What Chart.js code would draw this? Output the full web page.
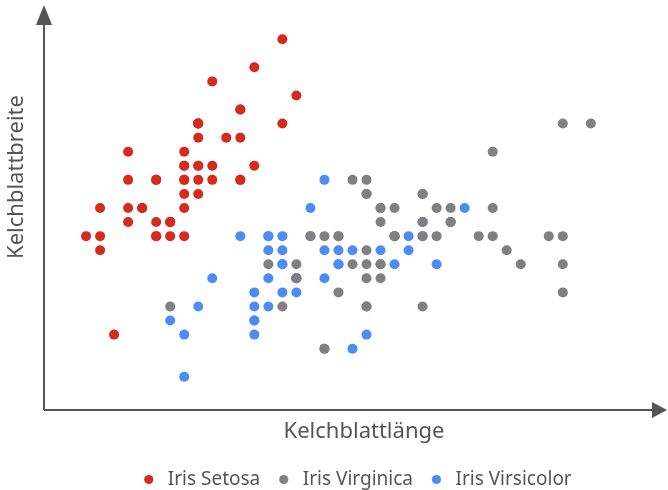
<!DOCTYPE html>
<html>
<head>
<meta charset="utf-8">
<script src="https://cdn.jsdelivr.net/npm/chart.js@4"></script>
<style>
  html, body { margin: 0; padding: 0; background: #fff; }
  #wrap { width: 668px; height: 490px; }
</style>
</head>
<body>
<div id="wrap"><canvas id="irisChart"></canvas></div>
<script>
// Iris: sepal length (Kelchblattlänge) vs. sepal width (Kelchblattbreite)
const setosaLength = [5.1, 4.9, 4.7, 4.6, 5.0, 5.4, 4.6, 5.0, 4.4, 4.9, 5.4, 4.8, 4.8, 4.3, 5.8, 5.7, 5.4, 5.1, 5.7, 5.1, 5.4, 5.1, 4.6, 5.1, 4.8, 5.0, 5.0, 5.2, 5.2, 4.7, 4.8, 5.4, 5.2, 5.5, 4.9, 5.0, 5.5, 4.9, 4.4, 5.1, 5.0, 4.5, 4.4, 5.0, 5.1, 4.8, 5.1, 4.6, 5.3, 5.0];
const setosaWidth = [3.5, 3.0, 3.2, 3.1, 3.6, 3.9, 3.4, 3.4, 2.9, 3.1, 3.7, 3.4, 3.0, 3.0, 4.0, 4.4, 3.9, 3.5, 3.8, 3.8, 3.4, 3.7, 3.6, 3.3, 3.4, 3.0, 3.4, 3.5, 3.4, 3.2, 3.1, 3.4, 4.1, 4.2, 3.1, 3.2, 3.5, 3.1, 3.0, 3.4, 3.5, 2.3, 3.2, 3.5, 3.8, 3.0, 3.8, 3.2, 3.7, 3.3];

const versicolorLength = [7.0, 6.4, 6.9, 5.5, 6.5, 5.7, 6.3, 4.9, 6.6, 5.2, 5.0, 5.9, 6.0, 6.1, 5.6, 6.7, 5.6, 5.8, 6.2, 5.6, 5.9, 6.1, 6.3, 6.1, 6.4, 6.6, 6.8, 6.7, 6.0, 5.7, 5.5, 5.5, 5.8, 6.0, 5.4, 6.0, 6.7, 6.3, 5.6, 5.5, 5.5, 6.1, 5.8, 5.0, 5.6, 5.7, 5.7, 6.2, 5.1, 5.7];
const versicolorWidth = [3.2, 3.2, 3.1, 2.3, 2.8, 2.8, 3.3, 2.4, 2.9, 2.7, 2.0, 3.0, 2.2, 2.9, 2.9, 3.1, 3.0, 2.7, 2.2, 2.5, 3.2, 2.8, 2.5, 2.8, 2.9, 3.0, 2.8, 3.0, 2.9, 2.6, 2.4, 2.4, 2.7, 2.7, 3.0, 3.4, 3.1, 2.3, 3.0, 2.5, 2.6, 3.0, 2.6, 2.3, 2.7, 3.0, 2.9, 2.9, 2.5, 2.8];

const virginicaLength = [6.3, 5.8, 7.1, 6.3, 6.5, 7.6, 4.9, 7.3, 6.7, 7.2, 6.5, 6.4, 6.8, 5.7, 5.8, 6.4, 6.5, 7.7, 7.7, 6.0, 6.9, 5.6, 7.7, 6.3, 6.7, 7.2, 6.2, 6.1, 6.4, 7.2, 7.4, 7.9, 6.4, 6.3, 6.1, 7.7, 6.3, 6.4, 6.0, 6.9, 6.7, 6.9, 5.8, 6.8, 6.7, 6.7, 6.3, 6.5, 6.2, 5.9];
const virginicaWidth = [3.3, 2.7, 3.0, 2.9, 3.0, 3.0, 2.5, 2.9, 2.5, 3.6, 3.2, 2.7, 3.0, 2.5, 2.8, 3.2, 3.0, 3.8, 2.6, 2.2, 3.2, 2.8, 2.8, 2.7, 3.3, 3.2, 2.8, 3.0, 2.8, 3.0, 2.8, 3.8, 2.8, 2.8, 2.6, 3.0, 3.4, 3.1, 3.0, 3.1, 3.1, 3.1, 2.7, 3.2, 3.3, 3.0, 2.5, 3.0, 3.4, 3.0];

const xTitle = "Kelchblattlänge";
const yTitle = "Kelchblattbreite";

const toPoints = (xs, ys) => xs.map((x, i) => ({ x: x, y: ys[i] }));

const axisColor = "#555555";
const fontFamily = "'Noto Sans', 'Open Sans', sans-serif";

// draws the two axis lines with arrow heads, plus both axis titles
const arrowAxes = {
  id: "arrowAxes",
  afterDraw(chart) {
    const { ctx, chartArea } = chart;
    const l = chartArea.left, b = chartArea.bottom;
    ctx.save();
    ctx.strokeStyle = axisColor;
    ctx.fillStyle = axisColor;
    ctx.lineWidth = 2;
    ctx.beginPath();
    ctx.moveTo(l, b);
    ctx.lineTo(l, chartArea.top + 14);
    ctx.moveTo(l, b);
    ctx.lineTo(chartArea.right - 14, b);
    ctx.stroke();
    ctx.beginPath();
    ctx.moveTo(l, chartArea.top);
    ctx.lineTo(l - 8, chartArea.top + 20);
    ctx.lineTo(l + 8, chartArea.top + 20);
    ctx.closePath();
    ctx.fill();
    ctx.beginPath();
    ctx.moveTo(chartArea.right, b);
    ctx.lineTo(chartArea.right - 15, b - 8);
    ctx.lineTo(chartArea.right - 15, b + 8);
    ctx.closePath();
    ctx.fill();

    ctx.font = "22px " + fontFamily;
    ctx.textAlign = "center";
    ctx.textBaseline = "middle";
    ctx.fillText(xTitle, 364, b + 22);

    ctx.translate(17, 177);
    ctx.rotate(-Math.PI / 2);
    ctx.fillText(yTitle, 0, 0);
    ctx.restore();
  },
};

new Chart(document.getElementById("irisChart"), {
  type: "scatter",
  data: {
    datasets: [
      {
        label: "Iris Setosa",
        data: toPoints(setosaLength, setosaWidth),
        backgroundColor: "#d42a1f",
        borderWidth: 0,
      },
      {
        label: "Iris Virginica",
        data: toPoints(virginicaLength, virginicaWidth),
        backgroundColor: "#808080",
        borderWidth: 0,
      },
      {
        label: "Iris Virsicolor",
        data: toPoints(versicolorLength, versicolorWidth),
        backgroundColor: "#4d8cf5",
        borderWidth: 0,
      },
    ],
  },
  options: {
    responsive: true,
    maintainAspectRatio: false,
    animation: false,
    elements: { point: { radius: 5, hoverRadius: 5 } },
    layout: { autoPadding: false, padding: { top: 5, right: 1, left: 44, bottom: -9 } },
    scales: {
      x: {
        type: "linear",
        min: 4.0,
        max: 8.443,
        grid: { display: false, drawTicks: false },
        border: { display: false },
        ticks: { display: false },
        title: { display: false },
        afterFit(scale) {
          scale.height = 46;
        },
      },
      y: {
        type: "linear",
        min: 1.764,
        max: 4.643,
        grid: { display: false, drawTicks: false },
        border: { display: false },
        ticks: { display: false },
        title: { display: false },
      },
    },
    plugins: {
      legend: {
        position: "bottom",
        labels: {
          usePointStyle: true,
          pointStyle: "circle",
          boxWidth: 19,
          boxHeight: 6.5,
          padding: 14,
          color: axisColor,
          font: { family: fontFamily, size: 19 },
        },
      },
      tooltip: { enabled: false },
    },
  },
  plugins: [arrowAxes],
});
</script>
</body>
</html>
